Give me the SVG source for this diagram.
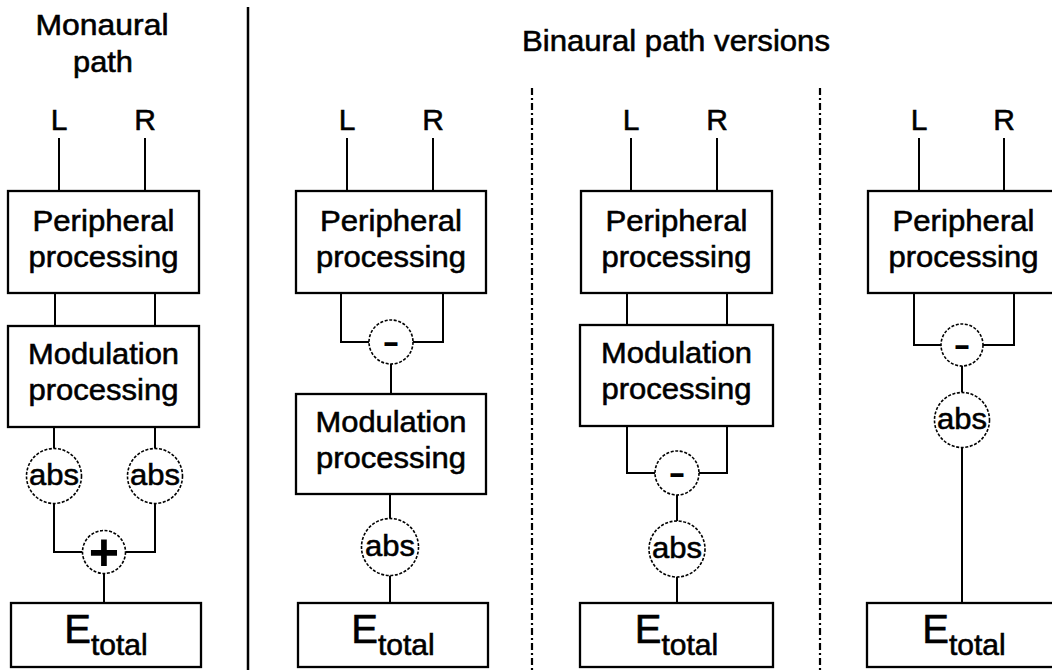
<svg xmlns="http://www.w3.org/2000/svg" width="1052" height="670" viewBox="0 0 1052 670">
<style>
.box{fill:#fff;stroke:#000;stroke-width:2.3}
.wire{fill:none;stroke:#000;stroke-width:2}
.op{fill:#fff;stroke:#000;stroke-width:1.6;stroke-dasharray:3 1.6}
.t{font-family:"Liberation Sans",Arial,sans-serif;font-size:29px;text-anchor:middle;fill:#000;stroke:#000;stroke-width:0.55}
.lr{font-size:30px}
.sign{font-family:"Liberation Sans",Arial,sans-serif;font-weight:bold;text-anchor:middle;fill:#000}
.e{font-family:"Liberation Sans",Arial,sans-serif;font-size:40px;text-anchor:middle;fill:#000;stroke:#000;stroke-width:0.6}
.sub{font-size:30px}
.div{stroke:#000;stroke-width:2.5}
.dd{stroke:#000;stroke-width:2.2;stroke-dasharray:7 3 2 3}
</style>
<rect width="1052" height="670" fill="#fff"/>

<g id="titles">
<text class="t" x="102" y="35" textLength="133" lengthAdjust="spacingAndGlyphs">Monaural</text>
<text class="t" x="103" y="72" textLength="60" lengthAdjust="spacingAndGlyphs">path</text>
<text class="t" x="676" y="51" textLength="308" lengthAdjust="spacingAndGlyphs">Binaural path versions</text>
</g>

<g id="dividers">
<line class="div" x1="248" y1="7" x2="248" y2="670"/>
<line class="dd" x1="532" y1="88" x2="532" y2="670"/>
<line class="dd" x1="820" y1="88" x2="820" y2="670"/>
</g>

<g id="connectors">
<path class="wire" d="M59,138V191M145,138V191M55,293V326M155,293V326M54,427V448.5M155,427V448.5M54,503.5V552H82.5M155,503.5V552H125.5M104,573.5V603"/>
<path class="wire" d="M347,138V191M433,138V191M341,293V342H369M443,293V342H413M391,364V394M390,494V518.5M390,575.5V603"/>
<path class="wire" d="M631,138V191M717,138V191M627,293V325M727,293V325M627,426V473H655M727,426V473H699M677,495V521M677,577V603"/>
<path class="wire" d="M919,138V191M1004,138V191M914,293V345H941M1014,293V345H983M962,366V392M962,448V603"/>
</g>

<!-- Column 1: monaural -->
<g id="inL-1"><text class="t lr" x="59" y="130">L</text></g>
<g id="inR-1"><text class="t lr" x="145" y="130">R</text></g>
<g id="periph-1"><rect class="box" x="8" y="191" width="191" height="102"/>
<text class="t" x="103.5" y="231" textLength="142" lengthAdjust="spacingAndGlyphs">Peripheral</text>
<text class="t" x="103.5" y="267" textLength="150" lengthAdjust="spacingAndGlyphs">processing</text></g>
<g id="mod-1"><rect class="box" x="8" y="326" width="191" height="101"/>
<text class="t" x="103.5" y="364" textLength="151" lengthAdjust="spacingAndGlyphs">Modulation</text>
<text class="t" x="103.5" y="400" textLength="150" lengthAdjust="spacingAndGlyphs">processing</text></g>
<g id="absL-1"><circle class="op" cx="54" cy="476" r="27.5"/><text class="t" x="54" y="485" textLength="50" lengthAdjust="spacingAndGlyphs">abs</text></g>
<g id="absR-1"><circle class="op" cx="155" cy="476" r="27.5"/><text class="t" x="155" y="485" textLength="50" lengthAdjust="spacingAndGlyphs">abs</text></g>
<g id="sum-1"><circle class="op" cx="104" cy="552" r="21.5"/><text class="sign" x="104" y="570" font-size="52">+</text></g>
<g id="etot-1"><rect class="box" x="11" y="603" width="190" height="64"/>
<text class="e" x="106" y="643">E<tspan class="sub" dy="12">total</tspan></text></g>

<!-- Column 2 -->
<g id="inL-2"><text class="t lr" x="347" y="130">L</text></g>
<g id="inR-2"><text class="t lr" x="433" y="130">R</text></g>
<g id="periph-2"><rect class="box" x="296" y="191" width="190" height="102"/>
<text class="t" x="391" y="231" textLength="142" lengthAdjust="spacingAndGlyphs">Peripheral</text>
<text class="t" x="391" y="267" textLength="150" lengthAdjust="spacingAndGlyphs">processing</text></g>
<g id="diff-2"><circle class="op" cx="391" cy="342" r="22"/><text class="sign" x="391" y="352" font-size="32" textLength="17" lengthAdjust="spacingAndGlyphs">-</text></g>
<g id="mod-2"><rect class="box" x="296" y="394" width="190" height="100"/>
<text class="t" x="391" y="432" textLength="151" lengthAdjust="spacingAndGlyphs">Modulation</text>
<text class="t" x="391" y="468" textLength="150" lengthAdjust="spacingAndGlyphs">processing</text></g>
<g id="abs-2"><circle class="op" cx="390" cy="547" r="28.5"/><text class="t" x="390" y="556" textLength="50" lengthAdjust="spacingAndGlyphs">abs</text></g>
<g id="etot-2"><rect class="box" x="298" y="603" width="190" height="64"/>
<text class="e" x="393" y="643">E<tspan class="sub" dy="12">total</tspan></text></g>

<!-- Column 3 -->
<g id="inL-3"><text class="t lr" x="631" y="130">L</text></g>
<g id="inR-3"><text class="t lr" x="717" y="130">R</text></g>
<g id="periph-3"><rect class="box" x="581" y="191" width="191" height="102"/>
<text class="t" x="676.5" y="231" textLength="142" lengthAdjust="spacingAndGlyphs">Peripheral</text>
<text class="t" x="676.5" y="267" textLength="150" lengthAdjust="spacingAndGlyphs">processing</text></g>
<g id="mod-3"><rect class="box" x="580" y="325" width="193" height="101"/>
<text class="t" x="676.5" y="363" textLength="151" lengthAdjust="spacingAndGlyphs">Modulation</text>
<text class="t" x="676.5" y="399" textLength="150" lengthAdjust="spacingAndGlyphs">processing</text></g>
<g id="diff-3"><circle class="op" cx="677" cy="473" r="22"/><text class="sign" x="677" y="483" font-size="32" textLength="17" lengthAdjust="spacingAndGlyphs">-</text></g>
<g id="abs-3"><circle class="op" cx="677" cy="549" r="28"/><text class="t" x="677" y="558" textLength="50" lengthAdjust="spacingAndGlyphs">abs</text></g>
<g id="etot-3"><rect class="box" x="580" y="603" width="193" height="64"/>
<text class="e" x="676.5" y="643">E<tspan class="sub" dy="12">total</tspan></text></g>

<!-- Column 4 -->
<g id="inL-4"><text class="t lr" x="919" y="130">L</text></g>
<g id="inR-4"><text class="t lr" x="1004" y="130">R</text></g>
<g id="periph-4"><rect class="box" x="868" y="191" width="193" height="102"/>
<text class="t" x="963.5" y="231" textLength="142" lengthAdjust="spacingAndGlyphs">Peripheral</text>
<text class="t" x="963.5" y="267" textLength="150" lengthAdjust="spacingAndGlyphs">processing</text></g>
<g id="diff-4"><circle class="op" cx="962" cy="345" r="21"/><text class="sign" x="962" y="355" font-size="32" textLength="17" lengthAdjust="spacingAndGlyphs">-</text></g>
<g id="abs-4"><circle class="op" cx="962" cy="420" r="27.5"/><text class="t" x="962" y="429" textLength="50" lengthAdjust="spacingAndGlyphs">abs</text></g>
<g id="etot-4"><rect class="box" x="867" y="603" width="193" height="64"/>
<text class="e" x="964" y="643">E<tspan class="sub" dy="12">total</tspan></text></g>
</svg>
